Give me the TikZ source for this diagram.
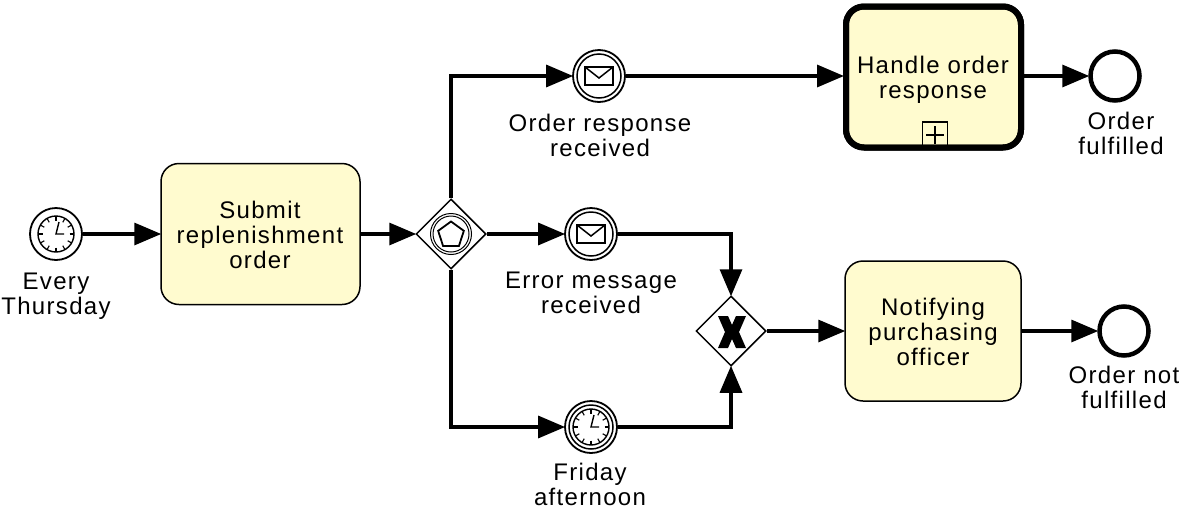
\documentclass[tikz,border=0pt]{standalone}
\usepackage{fontspec}
\setmainfont[LetterSpace=5.5]{Liberation Sans}
\usetikzlibrary{arrows.meta,shapes.geometric}
\definecolor{taskfill}{RGB}{255,251,207}

\newcommand{\clockicon}[2]{
  \begin{scope}[shift={(#1,#2)}]
    \draw[line width=1.4pt] (0,0) circle (18);
    \foreach \a in {0,30,...,330}
      \draw[line width=1.1pt] (\a:13.5) -- (\a:18);
    \draw[line width=1.4pt] (3,-12) -- (0,0) -- (8,0);
  \end{scope}
}
\newcommand{\mailicon}[2]{
  \begin{scope}[shift={(#1,#2)}]
    \draw[line width=1.5pt] (-14,-9) rectangle (14,9);
    \draw[line width=1.5pt] (-14,-9) -- (0,2) -- (14,-9);
  \end{scope}
}

\begin{document}
\begin{tikzpicture}[x=1pt,y=-1pt]

  \tikzstyle{label}=[font=\fontsize{24}{25}\selectfont,align=center,inner sep=0pt]
  \tikzstyle{task}=[rectangle,draw,fill=taskfill,rounded corners=18pt,line width=1.5pt]
  \tikzstyle{event}=[circle,draw,fill=white,minimum size=52pt,inner sep=0pt,line width=1.8pt]
  \tikzstyle{ring}=[circle,draw,minimum size=44pt,inner sep=0pt,line width=1.5pt]
  \tikzstyle{gate}=[diamond,draw,fill=white,minimum size=70pt,inner sep=0pt,line width=1.5pt]
  \tikzstyle{flow}=[line width=3.3pt,shorten >=-1pt,-{Triangle[length=27pt,width=22pt]}]

  \useasboundingbox (0,0) rectangle (1180,509);

  \node[task,minimum width=199pt,minimum height=141pt] (submit) at (260.5,234) {};
  \node[task,minimum width=176pt,minimum height=140pt] (notify) at (933,331) {};
  \node[task,minimum width=175pt,minimum height=141pt,line width=6pt] (handle) at (933.5,77) {};

  \node[event] (start) at (56,234) {};
  \node[event] (ordermsg) at (599,76) {};
  \node[ring] (ordermsgin) at (599,76) {};
  \node[event] (errormsg) at (591,234) {};
  \node[ring] (errormsgin) at (591,234) {};
  \node[event] (friday) at (591,427) {};
  \node[ring] (fridayin) at (591,427) {};
  \node[event,line width=4.5pt,minimum size=49pt] (fulfilled) at (1115,76) {};
  \node[event,line width=4.5pt,minimum size=49pt] (notfulfilled) at (1124,331) {};

  \node[gate] (split) at (451,234) {};
  \node[gate] (merge) at (731,331) {};

  \node[label] (submitlabel) at (260,235) {Submit\\replenishment\\order};
  \node[label] (notifylabel) at (933,332) {Notifying\\purchasing\\officer};
  \node[label] (handlelabel) at (933,80) {Handle order\\response};

  \node[label] (startlabel) at (56,296) {Every\\Thursday};
  \node[label] (ordermsglabel) at (600,135) {Order response\\received};
  \node[label] (errormsglabel) at (591,293) {Error message\\received};
  \node[label] (fridaylabel) at (590,484) {Friday\\afternoon};
  \node[label] (fulfilledlabel) at (1121,133.5) {Order\\fulfilled};
  \node[label] (notfulfilledlabel) at (1124,387.5) {Order not\\fulfilled};

  \draw[flow] (start) -- (submit);
  \draw[flow] (submit) -- (split);
  \draw[flow] (split.north) |- (ordermsg);
  \draw[flow] (split) -- (errormsg);
  \draw[flow] (split.south) |- (friday);
  \draw[flow] (ordermsg) -- (ordermsg -| handle.west);
  \draw[flow] (handle.east |- fulfilled) -- (fulfilled);
  \draw[flow] (errormsg) -| (merge.north);
  \draw[flow] (friday) -| (merge.south);
  \draw[flow] (merge) -- (notify);
  \draw[flow] (notify) -- (notfulfilled);

  \clockicon{56}{234}
  \clockicon{591}{427}
  \mailicon{599}{76}
  \mailicon{591}{234}

  % gateway markers
  \node[circle,draw,minimum size=41pt,inner sep=0pt,line width=1pt] (splitout) at (451,234) {};
  \node[circle,draw,minimum size=36pt,inner sep=0pt,line width=1pt] (splitin) at (451,234) {};
  \node[regular polygon,regular polygon sides=5,draw,minimum size=27pt,inner sep=0pt,line width=1.8pt] (splitmark) at (451,235) {};
  \begin{scope}[shift={(732,332)}]
    \fill (-14,-16) -- (-4,-16) -- (0,-7) -- (4,-16) -- (14,-16) -- (7,0) -- (14,16) -- (4,16)
      -- (0,7) -- (-4,16) -- (-14,16) -- (-7,0) -- cycle;
  \end{scope}

  % subprocess marker
  \node[rectangle,draw,minimum width=25pt,minimum height=26pt,inner sep=0pt,line width=1.2pt] (handlemark) at (935,135) {};
  \draw[line width=1.2pt] (handlemark.center) ++(-9,0) -- ++(18,0);
  \draw[line width=1.2pt] (handlemark.center) ++(0,-9) -- ++(0,18);
  \node[rectangle,draw,rounded corners=18pt,minimum width=175pt,minimum height=141pt,line width=6pt] (handleedge) at (933.5,77) {};

\end{tikzpicture}
\end{document}
